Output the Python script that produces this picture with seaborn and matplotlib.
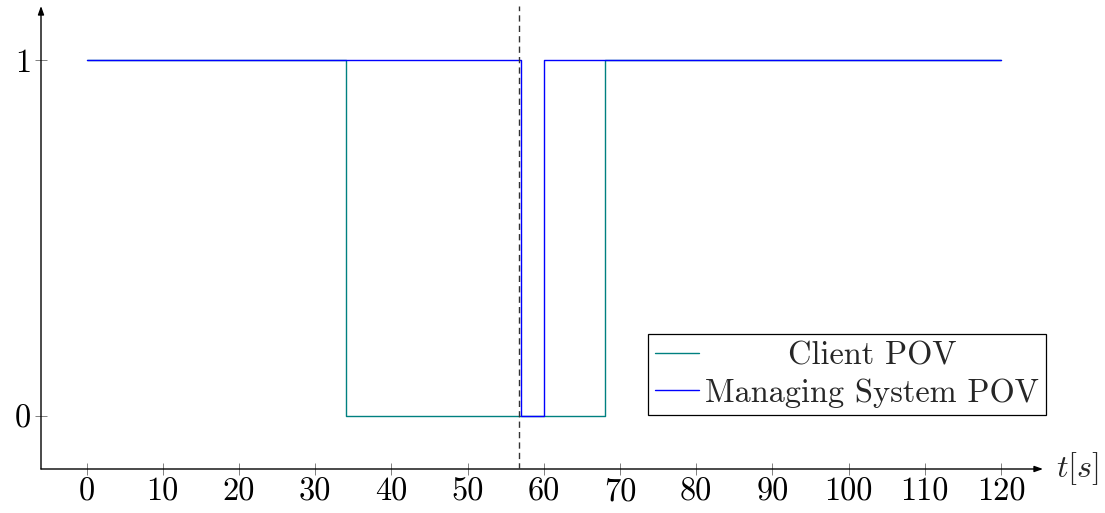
import matplotlib
matplotlib.use("Agg")
import matplotlib.pyplot as plt
from matplotlib.transforms import Affine2D
import seaborn as sns
import pandas as pd

# Step signals: availability seen from each point of view
client_t = [0, 34, 68, 120]
client_v = [1, 0, 1, 1]
managing_t = [0, 57, 60, 120]
managing_v = [1, 0, 1, 1]
event_time = 56.8

x_ticks = [0, 10, 20, 30, 40, 50, 60, 70, 80, 90, 100, 110, 120]
y_ticks = [0, 1]
series_names = ["Client POV", "Managing System POV"]

sns.set_style("white")
plt.rcParams["font.family"] = ["cmr10", "DejaVu Serif"]
plt.rcParams["mathtext.fontset"] = "cm"
plt.rcParams["axes.formatter.use_mathtext"] = True

FS = 23.3
fig = plt.figure(figsize=(11.05, 5.13), dpi=100)
ax = fig.add_axes([41 / 1105, 44 / 513, 1002 / 1105, 463 / 513])

df_client = pd.DataFrame({"t": client_t, "v": client_v})
df_managing = pd.DataFrame({"t": managing_t, "v": managing_v})

sns.lineplot(data=df_client, x="t", y="v", drawstyle="steps-post", color="#008080",
             lw=1.0, label=series_names[0], estimator=None, ax=ax, zorder=3)
sns.lineplot(data=df_managing, x="t", y="v", drawstyle="steps-post", color="#0000ff",
             lw=1.0, label=series_names[1], estimator=None, ax=ax, zorder=4)
ax.axvline(event_time, color="#333333", lw=1.0, ls=(0, (4.5, 3)), zorder=5)

ax.set_xlim(-5.97, 125.5)
ax.set_ylim(-0.149, 1.152)
ax.set_xticks(x_ticks)
ax.set_xticklabels([str(v) for v in x_ticks])
ax.set_yticks(y_ticks)
ax.set_yticklabels([str(v) for v in y_ticks])
ax.set_xlabel("")
ax.set_ylabel("")
ax.tick_params(axis="both", direction="inout", length=8.6, width=0.7, color="#808080",
               labelsize=FS, labelcolor="black", bottom=True, left=True)
ax.tick_params(axis="x", pad=2)
ax.tick_params(axis="y", pad=3)

for s in ax.spines.values():
    s.set_visible(False)

# Axis lines with arrow tips
arrow = dict(arrowstyle="-|>,head_length=0.5,head_width=0.18", color="black",
             lw=1.0, shrinkA=0, shrinkB=0)
ax.annotate("", xy=(1, 0), xytext=(0, 0), xycoords="axes fraction",
            textcoords="axes fraction", arrowprops=arrow, annotation_clip=False)
ax.annotate("", xy=(0, 1), xytext=(0, 0), xycoords="axes fraction",
            textcoords="axes fraction", arrowprops=arrow, annotation_clip=False)
ax.annotate("$t[s]$", xy=(1, 0), xycoords="axes fraction", xytext=(9, 0),
            textcoords="offset points", fontsize=FS, ha="left", va="center",
            annotation_clip=False)

leg = ax.legend(loc="upper right", bbox_to_anchor=(1046 / 1105, 1 - 334 / 513),
                bbox_transform=fig.transFigure, borderaxespad=0, fontsize=FS,
                frameon=True, fancybox=False, edgecolor="black", framealpha=1,
                handlelength=1.35, handletextpad=0.2, labelspacing=0.25,
                borderpad=0.22)
leg.get_frame().set_linewidth(0.9)

# Centre the shorter legend entry within the text column
fig.canvas.draw()
renderer = fig.canvas.get_renderer()
texts = leg.get_texts()
widths = [t.get_window_extent(renderer).width for t in texts]
wmax = max(widths)
for t, w in zip(texts, widths):
    dx = (wmax - w) / 2
    if dx > 0:
        t.set_transform(t.get_transform() + Affine2D().translate(dx, 0))

fig.savefig("out.png", dpi=100)
